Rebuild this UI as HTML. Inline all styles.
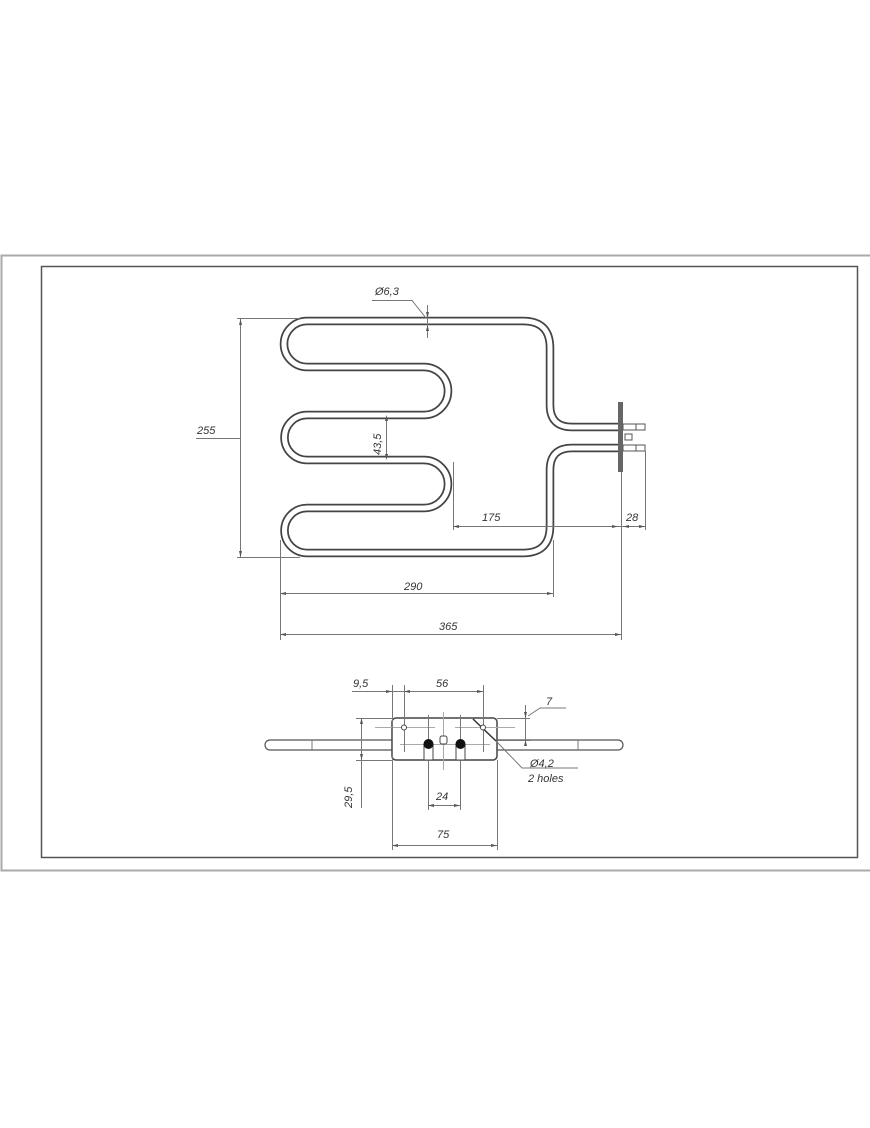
<!DOCTYPE html>
<html><head><meta charset="utf-8"><style>
html,body{margin:0;padding:0;background:#fff}
svg{display:block}
text{font-family:"Liberation Sans",sans-serif;font-style:italic;fill:#333;font-size:11px}
</style></head><body>
<svg width="870" height="1128" viewBox="0 0 870 1128" xmlns="http://www.w3.org/2000/svg">
<rect x="1.5" y="255.5" width="870" height="615" fill="none" stroke="#aaa" stroke-width="2"/>
<rect x="41.5" y="266.5" width="816" height="591" fill="none" stroke="#555" stroke-width="1.5"/>

<!-- heating element tube -->
<g fill="none" stroke-linecap="butt">
<path id="tube" d="M620 427 H572 Q550 427 550 405 V348 Q550 321 523 321 H307 A23 23 0 0 0 307 367 H424 A24 24 0 0 1 424 415 H307 A22.5 22.5 0 0 0 307 460 H424 A24 24 0 0 1 424 508 H307 A22.5 22.5 0 0 0 307 553 H523 Q550 553 550 526 V470 Q550 448 572 448 H620" stroke="#444" stroke-width="8.5"/>
<path d="M620 427 H572 Q550 427 550 405 V348 Q550 321 523 321 H307 A23 23 0 0 0 307 367 H424 A24 24 0 0 1 424 415 H307 A22.5 22.5 0 0 0 307 460 H424 A24 24 0 0 1 424 508 H307 A22.5 22.5 0 0 0 307 553 H523 Q550 553 550 526 V470 Q550 448 572 448 H620" stroke="#fff" stroke-width="5"/>
</g>
<!-- plate & terminals -->
<rect x="618" y="402" width="5" height="70" fill="#666"/>
<rect x="623" y="424" width="22" height="6" fill="#fff" stroke="#555" stroke-width="1"/>
<rect x="623" y="445" width="22" height="6" fill="#fff" stroke="#555" stroke-width="1"/>
<line x1="636" y1="424" x2="636" y2="430" stroke="#555"/>
<line x1="636" y1="445" x2="636" y2="451" stroke="#555"/>
<rect x="625" y="434" width="7" height="6" fill="#fff" stroke="#555"/>

<g stroke="#777" stroke-width="1" fill="none">
<!-- 255 -->
<line x1="237" y1="318.5" x2="300" y2="318.5"/>
<line x1="237" y1="557.5" x2="300" y2="557.5"/>
<line x1="240.5" y1="319" x2="240.5" y2="557"/>
<line x1="196" y1="438.5" x2="240" y2="438.5"/>
<!-- Ø6,3 -->
<polyline points="372,300.5 412,300.5 426,318"/>
<line x1="427.5" y1="305" x2="427.5" y2="338"/>
<!-- 43,5 -->
<line x1="386.5" y1="418" x2="386.5" y2="458"/>
<!-- 175 / 28 -->
<line x1="453.5" y1="462" x2="453.5" y2="530"/>
<line x1="453" y1="526.5" x2="645" y2="526.5"/>
<line x1="645.5" y1="451" x2="645.5" y2="530"/>
<line x1="621.5" y1="472" x2="621.5" y2="640"/>
<!-- 290 -->
<line x1="280.5" y1="540" x2="280.5" y2="640"/>
<line x1="553.5" y1="540" x2="553.5" y2="597"/>
<line x1="280" y1="593.5" x2="553" y2="593.5"/>
<!-- 365 -->
<line x1="280" y1="634.5" x2="621" y2="634.5"/>
</g>
<g fill="#555">
<path d="M240.5 319 l-1.5 6 h3z M240.5 557 l-1.5 -6 h3z"/>
<path d="M427.5 318 l-1.5 -6 h3z M427.5 325 l-1.5 6 h3z"/>
<path d="M386.5 415 l-1.5 6 h3z M386.5 460 l-1.5 -6 h3z"/>
<path d="M453 526.5 l6 -1.5 v3z M618 526.5 l-6 -1.5 v3z M623 526.5 l6 -1.5 v3z M645 526.5 l-6 -1.5 v3z"/>
<path d="M280 593.5 l6 -1.5 v3z M553 593.5 l-6 -1.5 v3z"/>
<path d="M280 634.5 l6 -1.5 v3z M621 634.5 l-6 -1.5 v3z"/>
</g>
<text x="197" y="434">255</text>
<text x="375" y="295">Ø6,3</text>
<text x="0" y="0" transform="translate(381,455) rotate(-90)">43,5</text>
<text x="482" y="521">175</text>
<text x="626" y="521">28</text>
<text x="404" y="590">290</text>
<text x="439" y="630">365</text>

<!-- bottom view -->
<rect x="265" y="740" width="358" height="10" rx="5" fill="#fff" stroke="#555" stroke-width="1.2"/>
<line x1="312" y1="740" x2="312" y2="750" stroke="#777"/>
<line x1="578" y1="740" x2="578" y2="750" stroke="#777"/>
<rect x="392" y="718" width="105" height="42" rx="4" fill="#fff" stroke="#444" stroke-width="1.5"/>
<g stroke="#aaa" stroke-width="1">
<line x1="375" y1="727.5" x2="435" y2="727.5"/>
<line x1="455" y1="727.5" x2="515" y2="727.5"/>
<line x1="400" y1="744.5" x2="490" y2="744.5"/>
<line x1="443.5" y1="712" x2="443.5" y2="770"/>
</g>
<g stroke="#777" stroke-width="1" fill="none">
<line x1="392.5" y1="685" x2="392.5" y2="850"/>
<line x1="404.5" y1="685" x2="404.5" y2="752"/>
<line x1="483.5" y1="685" x2="483.5" y2="752"/>
<line x1="497.5" y1="760" x2="497.5" y2="850"/>
<line x1="352" y1="691.5" x2="404" y2="691.5"/>
<line x1="404" y1="691.5" x2="483" y2="691.5"/>
<line x1="428.5" y1="715" x2="428.5" y2="810"/>
<line x1="460.5" y1="715" x2="460.5" y2="810"/>
<line x1="428" y1="805.5" x2="460" y2="805.5"/>
<line x1="392" y1="845.5" x2="497" y2="845.5"/>
<line x1="356" y1="718.5" x2="392" y2="718.5"/>
<line x1="356" y1="760.5" x2="392" y2="760.5"/>
<line x1="361.5" y1="718" x2="361.5" y2="808"/>
<line x1="497" y1="718.5" x2="530" y2="718.5"/>
<line x1="497" y1="740.5" x2="530" y2="740.5"/>
<line x1="525.5" y1="705" x2="525.5" y2="743"/>
<polyline points="528,716 540,708 566,708"/>
<line x1="473" y1="719" x2="496" y2="741" stroke="#333" stroke-width="1.5"/>
<polyline points="496,741 522,768 578,768"/>
</g>
<g fill="#555">
<path d="M392 691.5 l-6 -1.5 v3z M404 691.5 l6 -1.5 v3z M483 691.5 l-6 -1.5 v3z"/>
<path d="M428 805.5 l6 -1.5 v3z M460 805.5 l-6 -1.5 v3z"/>
<path d="M392 845.5 l6 -1.5 v3z M497 845.5 l-6 -1.5 v3z"/>
<path d="M361.5 718 l-1.5 6 h3z M361.5 760 l-1.5 -6 h3z"/>
<path d="M525.5 718 l-1.5 -6 h3z M525.5 740 l-1.5 6 h3z"/>
</g>
<circle cx="404" cy="727.5" r="2.5" fill="#fff" stroke="#444"/>
<circle cx="483" cy="727.5" r="2.5" fill="#fff" stroke="#444"/>
<rect x="424" y="744" width="9" height="16" fill="#fff" stroke="#444"/>
<rect x="456" y="744" width="9" height="16" fill="#fff" stroke="#444"/>
<circle cx="428.5" cy="744" r="5" fill="#111"/>
<circle cx="460.5" cy="744" r="5" fill="#111"/>
<rect x="440" y="736" width="7" height="8" rx="2" fill="#fff" stroke="#444"/>
<text x="353" y="687">9,5</text>
<text x="436" y="687">56</text>
<text x="546" y="705">7</text>
<text x="530" y="767">Ø4,2</text>
<text x="528" y="782">2 holes</text>
<text x="0" y="0" transform="translate(352,808) rotate(-90)">29,5</text>
<text x="436" y="800">24</text>
<text x="437" y="838">75</text>
</svg>
</body></html>
